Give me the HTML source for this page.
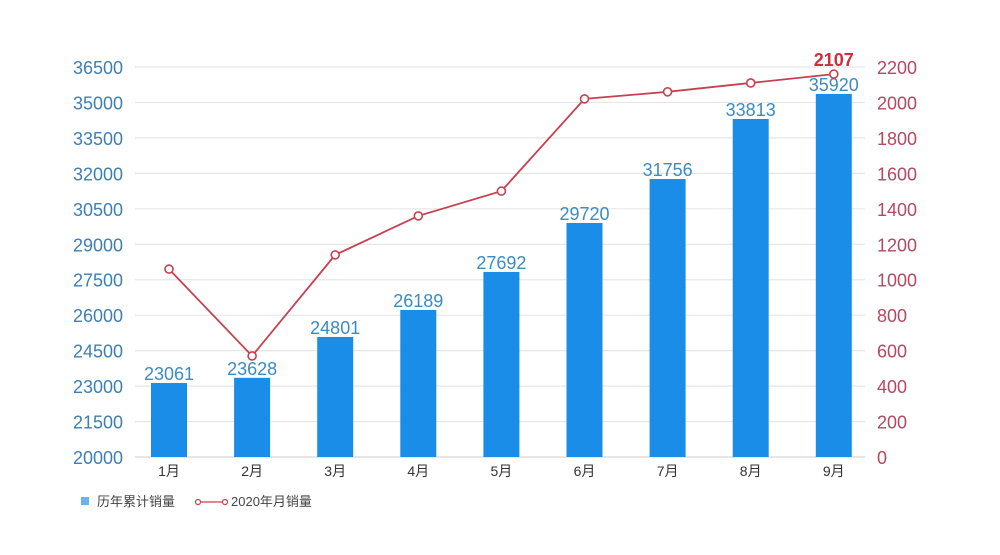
<!DOCTYPE html>
<html><head><meta charset="utf-8">
<style>
html,body{margin:0;padding:0;background:#fff;}
svg{display:block;font-family:"Liberation Sans","Noto Sans CJK SC",sans-serif;}
</style></head>
<body>
<svg id="chart" width="1000" height="555" viewBox="0 0 1000 555" xmlns="http://www.w3.org/2000/svg"></svg>
<script>
const categories=["1月","2月","3月","4月","5月","6月","7月","8月","9月"];
const cumulativeSales=[23130,23350,25080,26220,27830,29900,31760,34300,35360];
const cumulativeLabels=["23061","23628","24801","26189","27692","29720","31756","33813","35920"];
const monthlySales=[1060,570,1140,1360,1500,2020,2060,2110,2160];
const lastPointLabel="2107";
const leftTicks=[20000,21500,23000,24500,26000,27500,29000,30500,32000,33500,35000,36500];
const rightTicks=[0,200,400,600,800,1000,1200,1400,1600,1800,2000,2200];

const svg=document.getElementById('chart');
const NS="http://www.w3.org/2000/svg";
const plotL=135,plotR=865,plotT=67,plotB=457;
const yL=v=>plotB-(v-20000)/(36500-20000)*(plotB-plotT);
const yR=v=>plotB-v/2200*(plotB-plotT);
const step=83.1;
const xC=i=>169+step*i;
function mk(tag,attrs,txt){const e=document.createElementNS(NS,tag);for(const k in attrs)e.setAttribute(k,attrs[k]);if(txt!==undefined)e.textContent=txt;svg.appendChild(e);return e;}

leftTicks.forEach((t,i)=>{
  const g=mk('line',{x1:plotL,x2:plotR,y1:yL(t),y2:yL(t),stroke:i===0?'#d8d8d8':'#e6e6e6','stroke-width':1.2});
  
  
  const l=mk('text',{x:123,y:yL(t)+7,'text-anchor':'end','font-size':18,fill:'#3d7fb5'},t);
  
  
});
rightTicks.forEach(t=>{
  const l=mk('text',{x:877,y:yR(t)+7,'text-anchor':'start','font-size':18,fill:'#b5485f'},t);
  
  
});
categories.forEach((c,i)=>{
  const v=cumulativeSales[i];
  const b=mk('rect',{x:xC(i)-18,y:yL(v),width:36,height:plotB-yL(v),fill:'#1a8de9'});
  
  
  const bl=mk('text',{x:xC(i),y:yL(v)-3,'text-anchor':'middle','font-size':18,fill:'#3b8bc4'},cumulativeLabels[i]);
  
  
  const xl=mk('text',{x:xC(i),y:476,'text-anchor':'middle','font-size':14,fill:'#333'},c);
  
  
});
const pts=monthlySales.map((v,i)=>xC(i)+','+yR(v)).join(' ');
const line=mk('polyline',{points:pts,fill:'none',stroke:'#c8404f','stroke-width':1.8});


monthlySales.forEach((v,i)=>{
  const p=mk('circle',{cx:xC(i),cy:yR(v),r:4,fill:'#fff',stroke:'#c8404f','stroke-width':1.6});
  
  
});
const last=monthlySales.length-1;
const ll=mk('text',{x:xC(last),y:yR(monthlySales[last])-8,'text-anchor':'middle','font-size':18,'font-weight':'bold',fill:'#c8303f'},lastPointLabel);



const lg1=mk('rect',{x:81,y:497,width:8,height:8,fill:'#6ab4ec'});


const lt1=mk('text',{x:97,y:506,'font-size':13,fill:'#444'},'历年累计销量');


const lg2=mk('line',{x1:198,x2:225,y1:502,y2:502,stroke:'#c8404f','stroke-width':1.3});


[198,225].forEach(x=>{const c=mk('circle',{cx:x,cy:502,r:2.5,fill:'#fff',stroke:'#c8404f','stroke-width':1.2});

});
const lt2=mk('text',{x:231,y:506,'font-size':13,fill:'#444'},'2020年月销量');


</script>
</body></html>
